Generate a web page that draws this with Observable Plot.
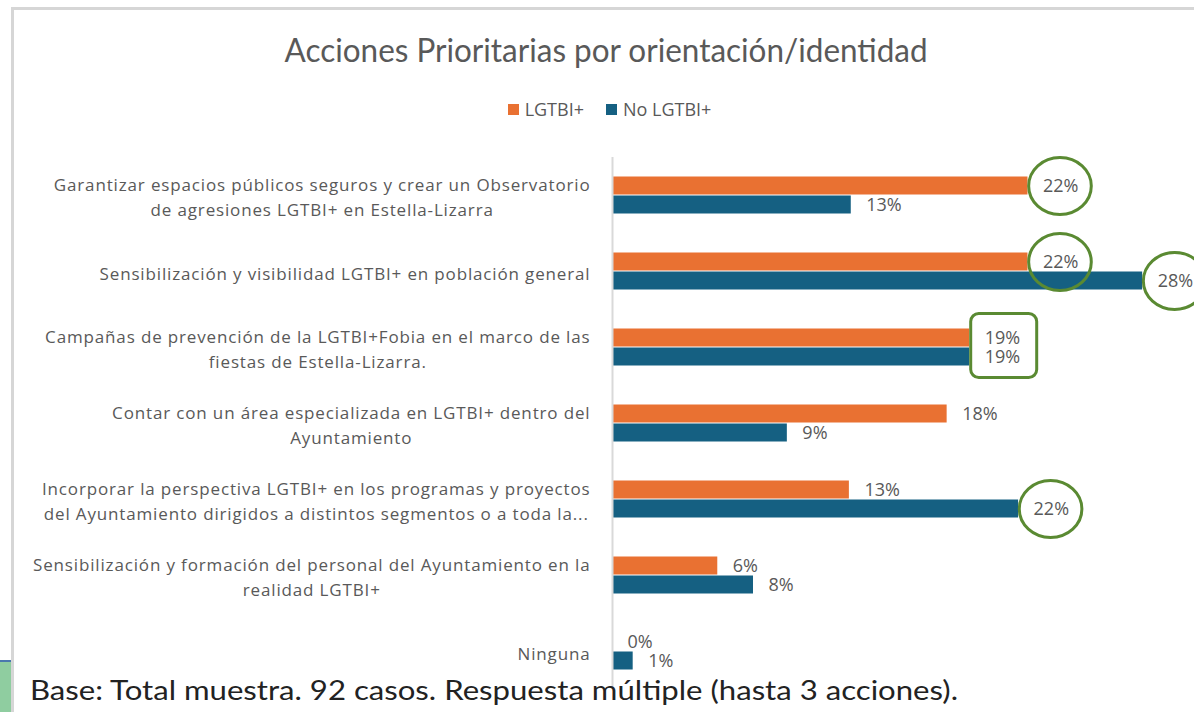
<!DOCTYPE html>
<html>
<head>
<meta charset="utf-8">
<script src="https://cdn.jsdelivr.net/npm/d3@7"></script>
<script src="https://cdn.jsdelivr.net/npm/@observablehq/plot@0.6"></script>
<style>
  body { margin:0; width:1194px; height:712px; overflow:hidden; background:#fff; position:relative; font-family: Lato, "Open Sans", sans-serif; }
  #frameTop { position:absolute; left:12px; top:7px; width:1182px; height:3px; background:#d6d6d6; }
  #frameLeft { position:absolute; left:11px; top:7px; width:3px; height:705px; background:#d6d6d6; }
  #green { position:absolute; left:0; top:660px; width:11px; height:52px; background:#8fcda0; border-top:2px solid #4a78ae; }
  #title { position:absolute; left:0; top:30px; width:1213px; text-align:center; font-size:32px; color:#595959; white-space:nowrap; }
  #title span { display:inline-block; transform-origin:center; }
  #legend { position:absolute; left:0; top:97px; width:1219px; display:flex; justify-content:center; gap:22px; font-size:18px; color:#595959; font-family:"Open Sans", sans-serif; }
  #legend .item { display:flex; align-items:center; gap:6px; }
  #legend .sw { width:11px; height:11px; display:inline-block; }
  #chart { position:absolute; left:0; top:140px; }
  #footer { position:absolute; left:30px; top:673px; font-size:27px; color:#222; white-space:nowrap; font-family: Lato, sans-serif; }
  #footer span { display:inline-block; transform-origin:left center; }
</style>
</head>
<body>
<div id="frameTop"></div>
<div id="frameLeft"></div>
<div id="green"></div>
<div id="title"><span>Acciones Prioritarias por orientación/identidad</span></div>
<div id="legend"></div>
<div id="chart"></div>
<div id="footer"><span>Base: Total muestra. 92 casos. Respuesta múltiple (hasta 3 acciones).</span></div>
<script>
// ---- data ----
const categories = [
  "Garantizar espacios públicos seguros y crear un Observatorio\nde agresiones LGTBI+ en Estella-Lizarra",
  "Sensibilización y visibilidad LGTBI+ en población general",
  "Campañas de prevención de la LGTBI+Fobia en el marco de las\nfiestas de Estella-Lizarra.",
  "Contar con un área especializada en LGTBI+ dentro del\nAyuntamiento",
  "Incorporar la perspectiva LGTBI+ en los programas y proyectos\ndel Ayuntamiento dirigidos a distintos segmentos o a toda la...",
  "Sensibilización y formación del personal del Ayuntamiento en la\nrealidad LGTBI+",
  "Ninguna"
];
const seriesNames = ["LGTBI+", "No LGTBI+"];
const lgtbiValues = [22.1, 22.1, 19.0, 17.8, 12.6, 5.6, 0];
const noLgtbiValues = [12.7, 28.2, 19.0, 9.3, 21.6, 7.5, 1.1];
const colors = ["#e97132", "#156082"];
const circled = [
  {cat: 0, series: "LGTBI+"},
  {cat: 1, series: "LGTBI+"},
  {cat: 1, series: "No LGTBI+"},
  {cat: 4, series: "No LGTBI+"}
];
const boxed = [{cat: 2}];
const green = "#5a8a32";

// ---- tables ----
const rows = categories.flatMap((c, i) => [
  {cat: c, series: seriesNames[0], value: lgtbiValues[i]},
  {cat: c, series: seriesNames[1], value: noLgtbiValues[i]}
]);
const valueOf = (ci, s) => (s === seriesNames[0] ? lgtbiValues : noLgtbiValues)[ci];
const circleRows = circled.map(d => ({cat: categories[d.cat], series: d.series, value: valueOf(d.cat, d.series)}));
const boxRows = boxed.map(d => ({cat: categories[d.cat], value: Math.max(lgtbiValues[d.cat], noLgtbiValues[d.cat])}));

// custom symbols
const ellipseSym = {
  draw(ctx, size) {
    const r = Math.sqrt(size / Math.PI);
    const rx = r * 1.08, ry = r * 0.98, k = 0.5523;
    ctx.moveTo(rx, 0);
    ctx.bezierCurveTo(rx, ry * k, rx * k, ry, 0, ry);
    ctx.bezierCurveTo(-rx * k, ry, -rx, ry * k, -rx, 0);
    ctx.bezierCurveTo(-rx, -ry * k, -rx * k, -ry, 0, -ry);
    ctx.bezierCurveTo(rx * k, -ry, rx, -ry * k, rx, 0);
    ctx.closePath();
  }
};
const roundRectSym = {
  draw(ctx, size) {
    const r = Math.sqrt(size / Math.PI);
    const w = r, h = r * 0.97, c = 8;
    ctx.moveTo(-w + c, -h);
    ctx.lineTo(w - c, -h);
    ctx.arcTo(w, -h, w, -h + c, c);
    ctx.lineTo(w, h - c);
    ctx.arcTo(w, h, w - c, h, c);
    ctx.lineTo(-w + c, h);
    ctx.arcTo(-w, h, -w, h - c, c);
    ctx.lineTo(-w, -h + c);
    ctx.arcTo(-w, -h, -w + c, -h, c);
    ctx.closePath();
  }
};

// legend
const legend = document.getElementById("legend");
seriesNames.forEach((s, i) => {
  const it = document.createElement("div");
  it.className = "item";
  it.innerHTML = `<span class="sw" style="background:${colors[i]}"></span><span>${s}</span>`;
  legend.appendChild(it);
});

const chart = Plot.plot({
  width: 1194,
  height: 560,
  marginLeft: 612,
  marginRight: 18,
  marginTop: 17,
  marginBottom: 11,
  style: {fontFamily: "'Open Sans', Lato, sans-serif", overflow: "visible"},
  x: {domain: [0, 30], axis: null},
  y: {domain: seriesNames, paddingInner: 0, paddingOuter: 1, axis: null},
  fy: {domain: categories, padding: 0, axis: null},
  color: {domain: seriesNames, range: colors},
  marks: [
    Plot.axisFy({anchor: "left", tickSize: 0, tickPadding: 22, fontSize: 17, lineHeight: 1.5, fill: "#595959", label: null}),
    Plot.barX(rows, {x: "value", y: "series", fy: "cat", fill: "series", insetTop: 0.5, insetBottom: 0.5}),
    Plot.ruleX([0], {stroke: "#d9d9d9", strokeWidth: 2}),
    Plot.text(rows, {x: "value", y: "series", fy: "cat", text: d => `${Math.round(d.value)}%`, dx: 15, textAnchor: "start", fontSize: 18, fill: "#595959"}),
    Plot.dot(circleRows, {x: "value", y: "series", fy: "cat", dx: 32, r: 29, symbol: ellipseSym, stroke: green, strokeWidth: 3, fill: "none"}),
    Plot.dot(boxRows, {x: "value", fy: "cat", dx: 34, dy: -2, r: 33, symbol: roundRectSym, stroke: green, strokeWidth: 3, fill: "none"})
  ]
});
document.getElementById("chart").appendChild(chart);

// center the lines of each multi-line category label, keeping the widest line right-aligned
chart.querySelectorAll('g[aria-label*="fy-axis"]').forEach(g => g.setAttribute("letter-spacing", "0.85"));
chart.querySelectorAll('g[aria-label*="fy-axis"] text').forEach(t => {
  const spans = t.querySelectorAll("tspan");
  if (spans.length < 2) return;
  const w = Math.max(...Array.from(spans, s => s.getComputedTextLength()));
  const base = parseFloat(t.getAttribute("x") || 0);
  t.setAttribute("text-anchor", "middle");
  spans.forEach(s => s.setAttribute("x", base - w / 2));
});

// fit title and footer widths to the reference's typefaces
const ts = document.querySelector("#title span");
ts.style.transform = `scaleX(${643 / ts.getBoundingClientRect().width})`;
const fs = document.querySelector("#footer span");
fs.style.transform = `scaleX(${928 / fs.getBoundingClientRect().width})`;
</script>
</body>
</html>
